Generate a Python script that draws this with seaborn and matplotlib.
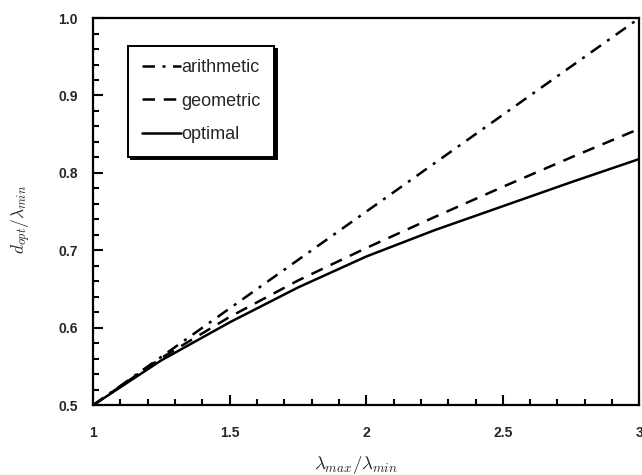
import matplotlib
matplotlib.use("Agg")
import matplotlib.pyplot as plt
import seaborn as sns
import pandas as pd
from matplotlib.ticker import MultipleLocator

sns.set_style("ticks")
plt.rcParams['font.family'] = ['Liberation Sans', 'DejaVu Sans']
plt.rcParams['mathtext.fontset'] = 'cm'

ratio = [1.0, 1.25, 1.5, 1.75, 2.0, 2.25, 2.5, 2.75, 3.0]
arithmetic = [0.5, 0.5625, 0.625, 0.6875, 0.75, 0.8125, 0.875, 0.9375, 1.0]
geometric = [0.5, 0.561, 0.614, 0.661, 0.703, 0.743, 0.782, 0.820, 0.857]
optimal = [0.5, 0.558, 0.607, 0.652, 0.692, 0.726, 0.757, 0.788, 0.818]

fig = plt.figure(figsize=(6.42, 4.75), dpi=100)
ax = fig.add_axes([0.145, 0.147, 0.851, 0.815])

lw = 1.8
sns.lineplot(x=ratio, y=arithmetic, ax=ax, color='black', lw=lw,
             linestyle=(0, (5, 3, 1.2, 3)), label='arithmetic')
sns.lineplot(x=ratio, y=geometric, ax=ax, color='black', lw=lw,
             linestyle=(0, (5, 3.5)), label='geometric')
sns.lineplot(x=ratio, y=optimal, ax=ax, color='black', lw=lw,
             linestyle='-', label='optimal')

ax.set_xlim(1, 3)
ax.set_ylim(0.5, 1.0)
ax.xaxis.set_major_locator(MultipleLocator(0.5))
ax.xaxis.set_minor_locator(MultipleLocator(0.1))
ax.yaxis.set_major_locator(MultipleLocator(0.1))
ax.yaxis.set_minor_locator(MultipleLocator(0.02))
ax.set_xticks([1, 1.5, 2, 2.5, 3])
ax.set_xticklabels(['1', '1.5', '2', '2.5', '3'])
ax.set_yticks([0.5, 0.6, 0.7, 0.8, 0.9, 1.0])
ax.set_yticklabels(['0.5', '0.6', '0.7', '0.8', '0.9', '1.0'])

ax.tick_params(which='both', direction='in', top=False, right=False,
               color='black', width=1.5)
ax.tick_params(which='major', length=7, labelsize=10)
ax.tick_params(axis='x', which='major', pad=15)
ax.tick_params(axis='y', which='major', pad=11)
ax.tick_params(which='minor', length=4)
for lab in ax.get_xticklabels() + ax.get_yticklabels():
    lab.set_fontweight('bold')
for sp in ax.spines.values():
    sp.set_visible(True)
    sp.set_color('black')
    sp.set_linewidth(1.6)

ax.set_xlabel(r'$\lambda_{max}/\lambda_{min}$', fontsize=13.5)
ax.set_ylabel(r'$d_{opt}/\lambda_{min}$', fontsize=12.5)
ax.xaxis.set_label_coords(0.482, -0.125)
ax.yaxis.set_label_coords(-0.11, 0.48)

leg = ax.legend(loc='upper left', bbox_to_anchor=(0.064, 0.928),
                fontsize=13, frameon=True, fancybox=False,
                shadow={'facecolor': 'black', 'edgecolor': 'black', 'alpha': 1},
                edgecolor='black', framealpha=1, handlelength=2.2,
                handletextpad=0.0, labelspacing=0.9, borderpad=0.75,
                borderaxespad=0)
leg.get_frame().set_linewidth(1.4)

fig.savefig('out.png', dpi=100)
